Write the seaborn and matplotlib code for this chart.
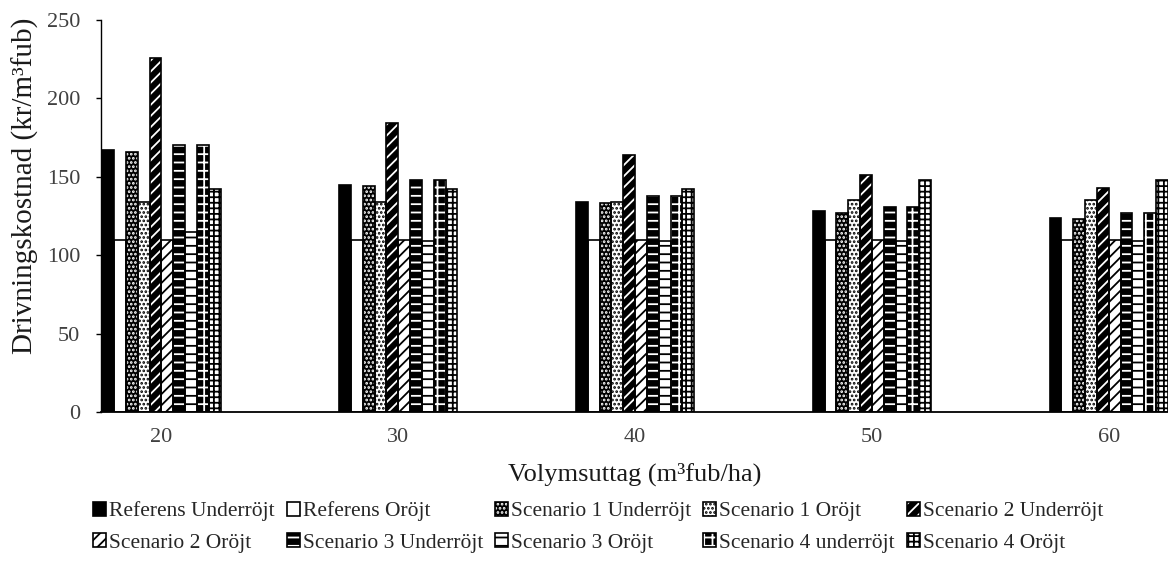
import numpy as np
import pandas as pd
import matplotlib
matplotlib.use("Agg")
import matplotlib.pyplot as plt
from matplotlib.patches import Patch
import seaborn as sns

# Volume removed per hectare (category axis)
volymsuttag = ["20", "30", "40", "50", "60"]

# Cost series, kr per m3fub
referens_underrojt = [167, 145, 134, 128, 124]
referens_orojt = [110, 110, 110, 110, 110]
scenario1_underrojt = [166, 144, 133, 127, 123]
scenario1_orojt = [134, 134, 134, 135, 135]
scenario2_underrojt = [226, 184, 164, 151, 143]
scenario2_orojt = [110, 110, 110, 110, 110]
scenario3_underrojt = [170, 148, 138, 131, 127]
scenario3_orojt = [115, 109, 109, 109, 109]
scenario4_underrojt = [170, 148, 138, 131, 127]
scenario4_orojt = [142, 142, 142, 148, 148]

serier = [
    "Referens Underröjt", "Referens Oröjt",
    "Scenario 1 Underröjt", "Scenario 1 Oröjt",
    "Scenario 2 Underröjt", "Scenario 2 Oröjt",
    "Scenario 3 Underröjt", "Scenario 3 Oröjt",
    "Scenario 4 underröjt", "Scenario 4 Oröjt",
]
varden = [
    referens_underrojt, referens_orojt,
    scenario1_underrojt, scenario1_orojt,
    scenario2_underrojt, scenario2_orojt,
    scenario3_underrojt, scenario3_orojt,
    scenario4_underrojt, scenario4_orojt,
]

df = pd.DataFrame(
    [(v, s, y) for s, ys in zip(serier, varden) for v, y in zip(volymsuttag, ys)],
    columns=["Volymsuttag", "Serie", "Kostnad"],
)

# Fill colour, hatch and hatch colour for each series (black & white print style)
stilar = [
    ("black", None, "black"),
    ("white", None, "white"),
    ("black", "....", "white"),
    ("white", "....", "black"),
    ("black", "///", "white"),
    ("white", "///", "black"),
    ("black", "--", "white"),
    ("white", "--", "black"),
    ("black", "++", "white"),
    ("white", "+++", "black"),
]

sns.set_style("white")
plt.rcParams["font.family"] = ["Liberation Serif", "DejaVu Serif"]
plt.rcParams["hatch.linewidth"] = 1.3

fig = plt.figure(figsize=(11.68, 5.64), dpi=100)
ax = fig.add_axes([101 / 1168, 1 - 412 / 564, 1 - 101 / 1168, 392 / 564])

sns.barplot(
    data=df, x="Volymsuttag", y="Kostnad", hue="Serie",
    order=volymsuttag, hue_order=serier,
    palette=[s[0] for s in stilar], width=0.5, errorbar=None,
    saturation=1, linewidth=0, legend=False, ax=ax,
)
for cont, (fc, hatch, hc) in zip(ax.containers[:len(serier)], stilar):
    for bar in cont:
        bar.set_facecolor(fc)
        bar.set_edgecolor(hc)
        bar.set_linewidth(0)
        if hatch:
            bar.set_hatch(hatch)

# Black outlines on top of the hatched fills
sns.barplot(
    data=df, x="Volymsuttag", y="Kostnad", hue="Serie",
    order=volymsuttag, hue_order=serier,
    palette=["black"] * len(serier), width=0.5, errorbar=None,
    fill=False, linewidth=1.2, legend=False, ax=ax,
)

ax.set_ylim(0, 250)
ax.set_yticks(np.arange(0, 251, 50))
ax.set_xlim(-0.255, 4.24)
ax.set_xticks(range(len(volymsuttag)))
ax.set_xticklabels(volymsuttag)
ax.set_xticks([i + d for i in range(len(volymsuttag)) for d in (-0.25, 0.25)], minor=True)

ax.tick_params(axis="x", which="major", length=0, pad=11.5, labelsize=16, labelcolor="#404040")
ax.tick_params(axis="x", which="minor", length=3.6, width=1.0, direction="out", color="black")
ax.tick_params(axis="y", length=3.6, width=1.0, direction="out", color="black",
               pad=11.5, labelsize=16, labelcolor="#404040", left=True)

for side in ("top", "right"):
    ax.spines[side].set_visible(False)
ax.spines["left"].set_color("black")
ax.spines["left"].set_linewidth(1.0)
ax.spines["bottom"].set_color("black")
ax.spines["bottom"].set_linewidth(1.3)

ax.set_xlabel("Volymsuttag (m³fub/ha)", fontsize=19, color="#1a1a1a")
ax.xaxis.set_label_coords(0.5, -0.13)
ax.set_ylabel("Drivningskostnad (kr/m³fub)", fontsize=21, color="#1a1a1a")
ax.yaxis.set_label_coords(-0.058, 0.577)

handles = [
    (Patch(facecolor=fc, edgecolor=hc, hatch=h, linewidth=0),
     Patch(facecolor="none", edgecolor="black", linewidth=1.2))
    for fc, h, hc in stilar
]
order = [0, 5, 1, 6, 2, 7, 3, 8, 4, 9]
fig.legend(
    [handles[i] for i in order], [serier[i] for i in order],
    ncol=5, loc="center left", bbox_to_anchor=(93 / 1168, 1 - 527 / 564),
    frameon=False, borderpad=0, borderaxespad=0,
    handlelength=0.6, handleheight=0.6, handletextpad=0.15,
    columnspacing=0.55, labelspacing=0.55,
    prop={"size": 15.5}, labelcolor="#262626",
)

fig.savefig("out.png", dpi=100)
